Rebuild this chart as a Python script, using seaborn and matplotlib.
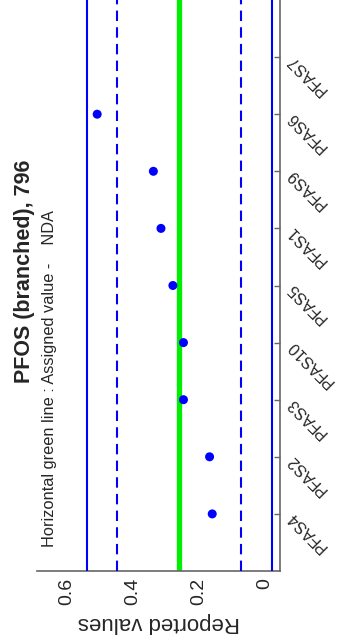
import numpy as np
import pandas as pd
import matplotlib
matplotlib.use('Agg')
import matplotlib.pyplot as plt
import seaborn as sns

categories = ['PFAS4', 'PFAS2', 'PFAS3', 'PFAS10', 'PFAS5', 'PFAS1', 'PFAS9', 'PFAS6', 'PFAS7']
reported = [0.160, 0.168, 0.247, 0.247, 0.279, 0.315, 0.338, 0.508, np.nan]
assigned_value = 0.26
outer_limits = [-0.02, 0.54]
inner_limits = [0.073, 0.447]
value_ticks = [0, 0.2, 0.4, 0.6]
value_tick_labels = ['0', '0.2', '0.4', '0.6']

sns.set_style('white')
plt.rcParams['font.family'] = ['Liberation Sans', 'DejaVu Sans']

fig = plt.figure(figsize=(3.38, 6.43), dpi=100)
ax = fig.add_axes([37 / 338, 72 / 643, 243 / 338, 571 / 643])

positions = np.arange(1, len(categories) + 1)
df = pd.DataFrame({'category': categories, 'pos': positions, 'value': reported})

ax.axvline(assigned_value, color='#00EE00', lw=3.8, zorder=2)
for v in outer_limits:
    ax.axvline(v, color='#0000FF', lw=1.5, zorder=3)
for v in inner_limits:
    ax.axvline(v, color='#0000FF', lw=1.5, ls=(0, (5, 3)), zorder=3)

sns.scatterplot(data=df.dropna(), x='value', y='pos', color='#0000FF', s=42,
                edgecolor='none', ax=ax, zorder=5, legend=False)

ax.set_xlim(0.69, -0.045)
ax.set_ylim(0, 10)
ax.set_xlabel('')
ax.set_ylabel('')

ax.set_xticks(value_ticks)
ax.set_xticklabels(value_tick_labels, rotation=90, fontsize=14)
ax.yaxis.tick_right()
ax.set_yticks(positions)
ax.set_yticklabels(categories)

ax.tick_params(direction='in', length=4, color='#666666', width=1)
ax.tick_params(axis='y', pad=7)
ax.tick_params(axis='x', pad=5)

for lab in ax.get_yticklabels():
    lab.set_rotation(135)
    lab.set_rotation_mode('anchor')
    lab.set_ha('right')
    lab.set_va('center')
    lab.set_fontsize(11.5)

for side in ['top', 'left']:
    ax.spines[side].set_visible(False)
for side in ['right', 'bottom']:
    ax.spines[side].set_visible(True)
    ax.spines[side].set_color('#666666')
    ax.spines[side].set_linewidth(1.2)

fig.text(158.5 / 338, 21 / 643, 'Reported values', rotation=180,
         ha='center', va='center', fontsize=16)
fig.text(25 / 338, 1 - 271 / 643, 'PFOS (branched), 796', rotation=90,
         fontsize=15.5, fontweight='bold', ha='center', va='center')
fig.text(50 / 338, 1 - 547 / 643, 'Horizontal green line : Assigned value -    NDA',
         rotation=90, ha='center', va='bottom', fontsize=11.8)

fig.savefig('out.png', dpi=100)
